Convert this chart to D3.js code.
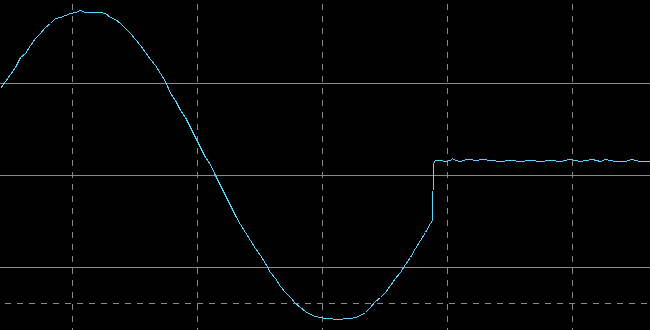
<!DOCTYPE html>
<html>
<head>
<meta charset="utf-8">
<script src="https://cdn.jsdelivr.net/npm/d3@7"></script>
<style>
  html, body { margin: 0; padding: 0; background: #000; overflow: hidden; }
  svg { display: block; }
</style>
</head>
<body>
<svg id="scope" width="650" height="330"></svg>
<script>
// sample positions (x) and captured levels (counts)
var samples = [0,5,10,15,20,25,30,35,40,45,50,55,60,65,70,75,80,85,90,95,100,105,110,115,120,125,130,135,140,145,150,155,160,165,170,175,180,185,190,195,200,205,210,215,220,225,230,235,240,245,250,255,260,265,270,275,280,285,290,295,300,305,310,315,320,325,330,335,340,345,350,355,360,365,370,375,380,385,390,395,400,405,410,415,420,425,430,432,433,435,440,445,450,452,455,460,466,470,475,482,490,500,510,520,530,540,550,560,569,575,580,592,600,605,615,625,631,640,650];
var levels = [242,249,256,263,273,277,285,292,297,303,307,312,313,315,317,318,320,318,318,318,318,317,313,311,307,302,297,291,285,278,271,265,257,249,237,230,220,213,203,193,183,173,166,155,145,135,125,115,106,98,90,82,75,67,58,52,44,38,33,27,23,19,16,14,13,12,12,11,11,12,12,13,15,18,23,29,33,38,45,52,58,66,73,82,90,98,107,110,167,170,170,169,170,172,170,169,171,171,170,171,170,169,170,169,170,169,170,169,171,170,169,171,169,171,169,169,171,169,169];

// graticule
var vDivs = [72, 197, 322, 447, 572];
var hSolid = [246, 155, 63];
var hDashed = [27];

var width = 650, height = 330;
var xScale = d3.scaleLinear().domain([0, 650]).range([0, width]);
var yScale = d3.scaleLinear().domain([0, 330]).range([height, 0]);

var svg = d3.select("#scope");

svg.append("rect")
  .attr("width", width)
  .attr("height", height)
  .attr("fill", "#000");

var grid = svg.append("g")
  .attr("stroke", "#8a8a8a")
  .attr("stroke-width", 1)
  .attr("shape-rendering", "crispEdges");

grid.selectAll(".vline")
  .data(vDivs)
  .enter()
  .append("line")
  .attr("class", "vline")
  .attr("x1", d => Math.floor(xScale(d)) + 0.5)
  .attr("x2", d => Math.floor(xScale(d)) + 0.5)
  .attr("y1", 4)
  .attr("y2", height)
  .attr("stroke-dasharray", "6,6");

grid.selectAll(".hsolid")
  .data(hSolid)
  .enter()
  .append("line")
  .attr("class", "hsolid")
  .attr("x1", 0)
  .attr("x2", width)
  .attr("y1", d => Math.floor(yScale(d)) + 0.5)
  .attr("y2", d => Math.floor(yScale(d)) + 0.5);

grid.selectAll(".hdash")
  .data(hDashed)
  .enter()
  .append("line")
  .attr("class", "hdash")
  .attr("x1", 5)
  .attr("x2", width)
  .attr("y1", d => Math.floor(yScale(d)) + 0.5)
  .attr("y2", d => Math.floor(yScale(d)) + 0.5)
  .attr("stroke-dasharray", "6,6");

// trace, drawn aliased like the scope screen
var line = d3.line()
  .x((d, i) => xScale(samples[i]) + 0.5)
  .y(d => yScale(d) + 0.5);

svg.append("path")
  .datum(levels)
  .attr("d", line)
  .attr("fill", "none")
  .attr("stroke", "#5fd3ff")
  .attr("stroke-width", 1)
  .attr("shape-rendering", "crispEdges");
</script>
</body>
</html>
